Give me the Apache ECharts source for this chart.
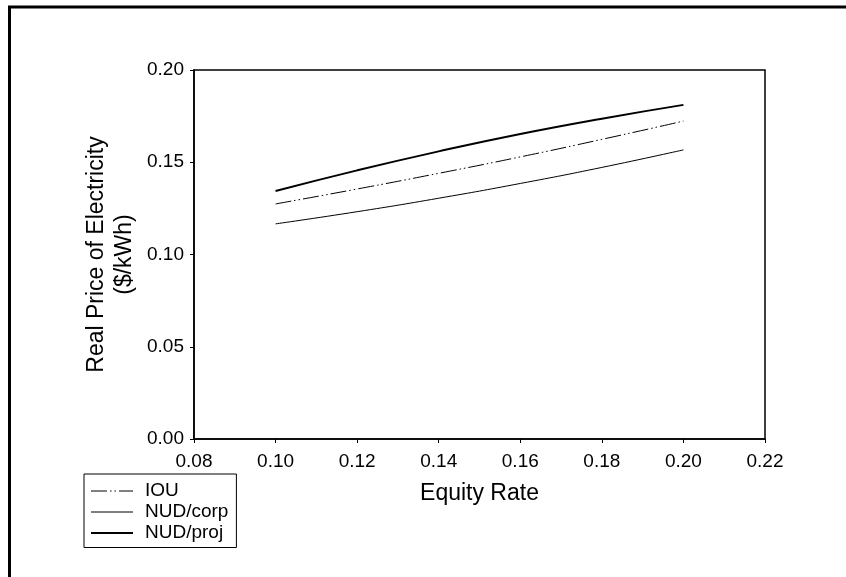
<!DOCTYPE html>
<html><head><meta charset="utf-8">
<script src="https://cdn.jsdelivr.net/npm/echarts@6/dist/echarts.min.js"></script>
<style>html,body{margin:0;padding:0;background:#fff}#c{width:846px;height:577px}</style>
</head><body><div id="c"></div>
<script>
const equityRate = [0.10, 0.12, 0.14, 0.16, 0.18, 0.20];
const iou      = [0.1274, 0.1355, 0.1440, 0.1529, 0.1624, 0.1723];
const nudCorp  = [0.1166, 0.1232, 0.1305, 0.1385, 0.1472, 0.1567];
const nudProj  = [0.1344, 0.1456, 0.1559, 0.1653, 0.1736, 0.1811];
const seriesNames = ['IOU', 'NUD/corp', 'NUD/proj'];
const xTicks = {min: 0.08, max: 0.22, interval: 0.02};
const yTicks = {min: 0, max: 0.20, interval: 0.05};

const FONT = 'Liberation Sans, Arial, sans-serif';
const IOU_DASH = [16, 3, 1.5, 3, 1.5, 3];
const pairs = arr => equityRate.map((x, i) => [x, arr[i]]);
const chart = echarts.init(document.getElementById('c'), null, {renderer: 'canvas'});
chart.setOption({
  animation: false,
  backgroundColor: '#fff',
  grid: {left: 194, right: 81, top: 70, bottom: 138, show: true, borderColor: '#000', borderWidth: 1.5, backgroundColor: 'transparent'},
  xAxis: {
    type: 'value', min: xTicks.min, max: xTicks.max, interval: xTicks.interval,
    name: 'Equity Rate', nameLocation: 'middle', nameGap: 43, nameMoveOverlap: false,
    nameTextStyle: {fontFamily: FONT, fontSize: 23, color: '#000'},
    axisLine: {lineStyle: {color: '#000', width: 1.5}},
    axisTick: {show: true, inside: false, length: 4, lineStyle: {color: '#000'}},
    axisLabel: {fontFamily: FONT, fontSize: 19, color: '#000', margin: 13, formatter: v => v.toFixed(2)},
    splitLine: {show: false}
  },
  yAxis: {
    type: 'value', min: yTicks.min, max: yTicks.max, interval: yTicks.interval,
    name: 'Real Price of Electricity\n($/kWh)', nameLocation: 'middle', nameGap: 55, nameRotate: 90, nameMoveOverlap: false,
    nameTextStyle: {fontFamily: FONT, fontSize: 23, color: '#000', lineHeight: 28},
    axisLine: {show: true, lineStyle: {color: '#000', width: 1.5}},
    axisTick: {show: true, inside: false, length: 4, lineStyle: {color: '#000'}},
    axisLabel: {fontFamily: FONT, fontSize: 19, color: '#000', margin: 10, formatter: v => v.toFixed(2)},
    splitLine: {show: false}
  },
  legend: {
    orient: 'vertical', left: 84, top: 474,
    padding: [6.5, 8, 4, 6], itemGap: 0,
    itemWidth: 42, itemHeight: 10,
    borderColor: '#000', borderWidth: 1, borderRadius: 0, backgroundColor: '#fff',
    itemStyle: {opacity: 0},
    textStyle: {fontFamily: FONT, fontSize: 19, color: '#000', lineHeight: 21, padding: [0, 0, 0, 7]},
    data: [
      {name: seriesNames[0], lineStyle: {width: 1, type: IOU_DASH, color: '#000'}},
      {name: seriesNames[1], lineStyle: {width: 1, type: 'solid', color: '#000'}},
      {name: seriesNames[2], lineStyle: {width: 2, type: 'solid', color: '#000'}}
    ]
  },
  graphic: [
    {type: 'line', shape: {x1: 8, y1: 7, x2: 846, y2: 7}, style: {stroke: '#000', lineWidth: 3}},
    {type: 'line', shape: {x1: 9.5, y1: 6, x2: 9.5, y2: 577}, style: {stroke: '#000', lineWidth: 3}}
  ],
  series: [
    {name: seriesNames[0], type: 'line', smooth: true, symbol: 'none', data: pairs(iou),
     lineStyle: {color: '#000', width: 1, type: IOU_DASH}, itemStyle: {color: '#000'}},
    {name: seriesNames[1], type: 'line', smooth: true, symbol: 'none', data: pairs(nudCorp),
     lineStyle: {color: '#000', width: 1}, itemStyle: {color: '#000'}},
    {name: seriesNames[2], type: 'line', smooth: true, symbol: 'none', data: pairs(nudProj),
     lineStyle: {color: '#000', width: 2}, itemStyle: {color: '#000'}}
  ]
});
</script></body></html>
